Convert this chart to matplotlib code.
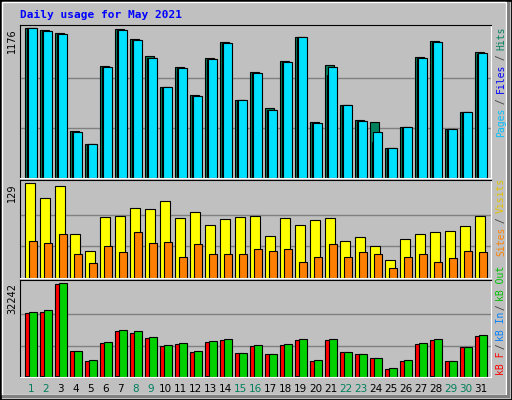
#!/usr/bin/env python3
import matplotlib
matplotlib.use("Agg")
import matplotlib.pyplot as plt
import numpy as np

days = list(range(1, 32))
weekend = [1, 2, 8, 9, 15, 16, 22, 23, 29, 30]

hits  = [1176, 1157, 1136, 365, 269, 877, 1165, 1093, 957, 717, 869, 653, 941, 1069, 613,
         829, 549, 917, 1109, 437, 885, 573, 453, 437, 237, 397, 949, 1077, 381, 517, 989]
files = [1173, 1149, 1128, 357, 269, 869, 1157, 1085, 941, 717, 861, 645, 933, 1061, 613,
         821, 533, 909, 1109, 429, 805, 573, 445, 285, 237, 397, 941, 1069, 381, 517, 973]
pages = [1173, 1149, 1128, 357, 269, 869, 1157, 1085, 941, 717, 861, 645, 933, 1061, 613,
         821, 533, 909, 1109, 429, 869, 573, 445, 357, 237, 397, 941, 1069, 381, 517, 981]

visits = [129, 109, 125, 60, 36, 83, 84, 95, 94, 105, 81, 90, 72, 80, 83, 84,
          57, 81, 72, 79, 81, 50, 56, 43, 25, 53, 60, 62, 64, 70, 84]
sites  = [50, 48, 60, 32, 21, 43, 35, 62, 48, 49, 29, 46, 32, 32, 32, 39,
          36, 39, 22, 28, 46, 28, 35, 32, 14, 28, 32, 22, 27, 36, 35]

kb_files = [21967, 22321, 31888, 8858, 5315, 11692, 15590, 15235, 13464, 10629, 11338,
            8503, 12046, 12755, 8149, 10629, 7795, 10983, 12755, 5315, 12755, 8503,
            7795, 6377, 2834, 5315, 11338, 12755, 5315, 10275, 14172]
kb_out   = [22321, 23030, 32242, 8858, 5669, 12046, 15944, 15590, 13818, 10983, 11692,
            8858, 12400, 13109, 8149, 10983, 7795, 11338, 13109, 5669, 13109, 8503,
            7795, 6377, 3189, 5669, 11692, 13109, 5315, 10275, 14527]
kb_in    = [300, 300, 300, 100, 100, 100, 300, 100, 100, 100, 100, 100, 300, 100, 100,
            100, 100, 100, 300, 100, 100, 100, 100, 100, 100, 100, 100, 300, 100, 100, 100]

BG = "#C0C0C0"
W, H = 512, 400
fig = plt.figure(figsize=(W / 100, H / 100), dpi=100, facecolor=BG)

# outer 3D frame
fig.add_artist(plt.Rectangle((0, 0), 1, 1, transform=fig.transFigure, fill=False,
                             ec="black", lw=2))
fig.add_artist(plt.Rectangle((2 / W, 5 / H), 1 - 8 / W, 1 - 7 / H, transform=fig.transFigure,
                             fill=False, ec="white", lw=1))
fig.add_artist(plt.Rectangle((2 / W, 2 / H), 1 - 4 / W, 3 / H, transform=fig.transFigure,
                             fc="#808080", ec="none"))
fig.add_artist(plt.Rectangle((1 - 5 / W, 2 / H), 3 / W, 1 - 4 / H, transform=fig.transFigure,
                             fc="#808080", ec="none"))

fig.text(20 / W, 1 - 15 / H, "Daily usage for May 2021", color="#0000FF", family="DejaVu Sans Mono",
         weight="bold", fontsize=8, va="center", ha="left")

x = np.arange(31)
X0, X1 = 20, 491


def panel(top, bottom):
    ax = fig.add_axes([X0 / W, 1 - bottom / H, (X1 - X0) / W, (bottom - top) / H])
    ax.set_facecolor(BG)
    ax.set_xlim(-0.35, 31.05)
    ax.set_xticks([])
    ax.set_yticks([])
    for s in ("left", "top"):
        ax.spines[s].set_color("black")
    for s in ("right", "bottom"):
        ax.spines[s].set_color("white")
    return ax


def grid(ax, ymax):
    for f in (1 / 3, 2 / 3):
        ax.axhline(ymax * f, color="#808080", lw=1, zorder=0)


kw = dict(align="edge", edgecolor="black", linewidth=0.8, zorder=2)

ax1 = panel(25, 178)
ymax1 = 1176
ax1.set_ylim(0, ymax1 * 1.02)
grid(ax1, ymax1)
ax1.bar(x, hits, 0.6, color="#00805C", **kw)
ax1.bar(x + 0.1, files, 0.6, color="#0000FF", **kw)
ax1.bar(x + 0.2, pages, 0.55, color="#00E0FF", **kw)

ax2 = panel(180, 278)
ymax2 = 129
ax2.set_ylim(0, ymax2 * 1.03)
grid(ax2, ymax2)
ax2.bar(x, visits, 0.67, color="#FFFF00", **kw)
ax2.bar(x + 0.22, sites, 0.53, color="#FF8000", **kw)

ax3 = panel(280, 377)
ymax3 = 32242
ax3.set_ylim(0, ymax3 * 1.03)
grid(ax3, ymax3)
ax3.bar(x, kb_files, 0.5, color="#FF0000", **kw)
ax3.bar(x, kb_in, 0.2, color="#0080FF", **kw)
ax3.bar(x + 0.22, kb_out, 0.53, color="#00D000", **kw)

# day labels
for i, d in enumerate(days):
    col = "#00805C" if d in weekend else "black"
    px = X0 + (i + 0.35 + 0.375) * (X1 - X0) / 31.4
    fig.text(px / W, 1 - 389 / H, str(d), color=col, fontsize=7.5, ha="center", va="center")

# left max labels
for top, lab in [(28, "1176"), (184, "129"), (283, "32242")]:
    fig.text(12 / W, 1 - top / H, lab, rotation=90, fontsize=7, ha="center", va="top")


# right legends, reading bottom to top
def legend(top, parts, cw):
    n = sum(len(t) for t, _ in parts)
    y = top + n * cw
    for t, c in parts:
        fig.text(501 / W, 1 - y / H, t, rotation=90, color=c, family="DejaVu Sans Mono",
                 fontsize=7, ha="center", va="bottom")
        y -= len(t) * cw


legend(28, [("Pages", "#00C0FF"), (" / ", "#404040"), ("Files", "#0000FF"),
            (" / ", "#404040"), ("Hits", "#00805C")], 5.45)
legend(180, [("Sites", "#FF8000"), (" / ", "#404040"), ("Visits", "#E0C000")], 5.45)
legend(272, [("kB F", "#FF0000"), (" / ", "#404040"), ("kB In", "#0080FF"),
             (" / ", "#404040"), ("kB Out", "#00C000")], 4.9)

fig.savefig("out.png", dpi=100, facecolor=BG)
